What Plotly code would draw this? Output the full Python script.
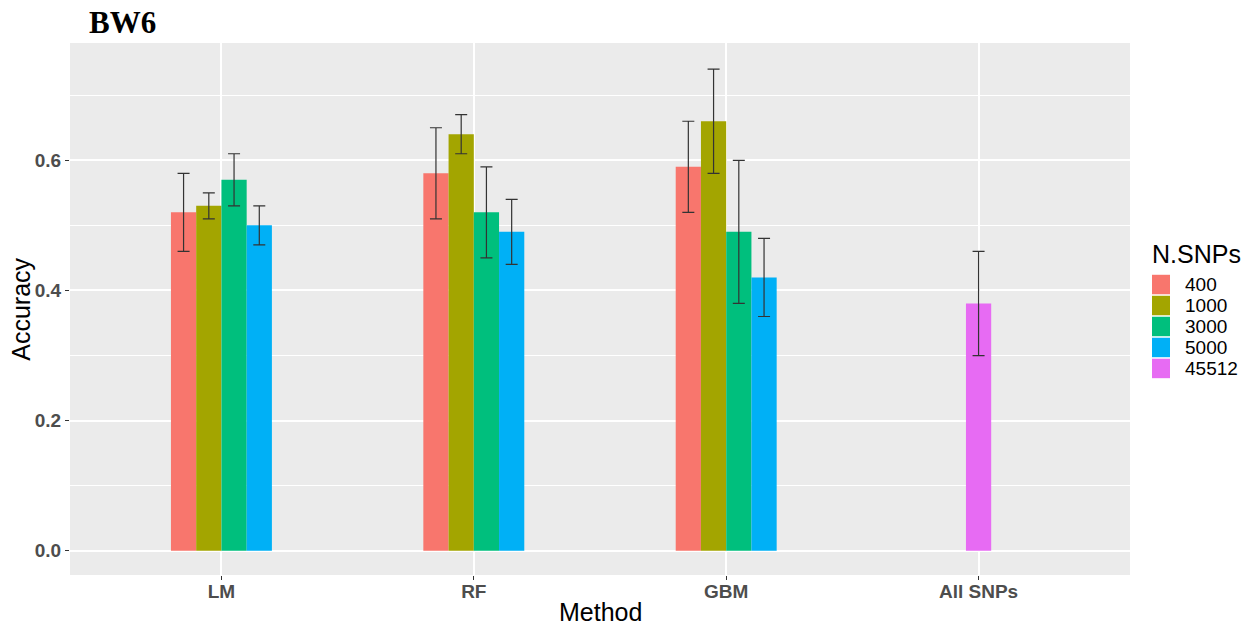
import plotly.graph_objects as go

methods = ["LM", "RF", "GBM", "All SNPs"]
n_snps = ["400", "1000", "3000", "5000", "45512"]
colors = ["#F8766D", "#A3A500", "#00BF7D", "#00B0F6", "#E76BF3"]

acc_400 = [0.52, 0.58, 0.59]
err_400 = [0.06, 0.07, 0.07]
acc_1000 = [0.53, 0.64, 0.66]
err_1000 = [0.02, 0.03, 0.08]
acc_3000 = [0.57, 0.52, 0.49]
err_3000 = [0.04, 0.07, 0.11]
acc_5000 = [0.50, 0.49, 0.42]
err_5000 = [0.03, 0.05, 0.06]
acc_45512 = [0.38]
err_45512 = [0.08]

series = [
    (methods[:3], acc_400, err_400),
    (methods[:3], acc_1000, err_1000),
    (methods[:3], acc_3000, err_3000),
    (methods[:3], acc_5000, err_5000),
    (methods[3:], acc_45512, err_45512),
]

W, H = 1246, 630
ML, MR, MT, MB = 70, 116, 43, 54.5
PW, PH = W - ML - MR, H - MT - MB

def px_x(x):
    return (x - ML) / PW

def px_y(y):
    return (H - MB - y) / PH

bar_w = 0.1
fig = go.Figure()
for i, (xs, ys, es) in enumerate(series):
    offset = -0.2 + bar_w * i if i < 4 else -bar_w / 2
    fig.add_trace(go.Bar(
        x=xs, y=ys, name=n_snps[i],
        marker=dict(color=colors[i], line=dict(width=0)),
        width=bar_w, offset=offset,
        error_y=dict(type="data", array=es, visible=True,
                     color="#333333", thickness=1.2, width=6),
        showlegend=False,
    ))

sans = "Liberation Sans, Arial, sans-serif"
tick_font = dict(family=sans, size=19, color="#4D4D4D")

annotations = [
    dict(text="Method", x=0.5, y=px_y(613), xref="paper", yref="paper",
         xanchor="center", yanchor="middle", showarrow=False,
         font=dict(family=sans, size=25, color="black")),
    dict(text="Accuracy", x=px_x(21), y=px_y(310), xref="paper", yref="paper",
         xanchor="center", yanchor="middle", textangle=-90, showarrow=False,
         font=dict(family=sans, size=25, color="black")),
    dict(text="N.SNPs", x=px_x(1150), y=px_y(254), xref="paper", yref="paper",
         xanchor="left", yanchor="middle", showarrow=False,
         font=dict(family=sans, size=25, color="black")),
]
shapes = []
for i, (lab, col) in enumerate(zip(n_snps, colors)):
    top = 275 + 21 * i
    shapes.append(dict(type="rect", xref="paper", yref="paper",
                       x0=px_x(1152), x1=px_x(1170), y0=px_y(top + 19.5), y1=px_y(top),
                       fillcolor=col, line=dict(width=0)))
    annotations.append(dict(text=lab, x=px_x(1183), y=px_y(top + 10), xref="paper", yref="paper",
                            xanchor="left", yanchor="middle", showarrow=False,
                            font=dict(family=sans, size=19, color="black")))

fig.update_layout(
    width=W, height=H,
    barmode="overlay",
    paper_bgcolor="white",
    plot_bgcolor="#EBEBEB",
    margin=dict(l=ML, r=MR, t=MT, b=MB, autoexpand=False),
    font=dict(family=sans, color="black"),
    title=dict(text="<b>BW6</b>", x=89 / W, xref="container", xanchor="left",
               y=1 - 22 / H, yref="container", yanchor="middle",
               font=dict(family="Liberation Serif, Times New Roman, serif", size=31, color="black")),
    showlegend=False,
    annotations=annotations,
    shapes=shapes,
)

fig.update_xaxes(
    type="category", categoryorder="array", categoryarray=methods,
    range=[-0.6, 3.6], automargin=False,
    showgrid=True, gridcolor="white", gridwidth=1.5,
    ticks="outside", ticklen=4, tickcolor="#333333", tickwidth=1,
    tickfont=tick_font, tickprefix="<b>", ticksuffix="</b>",
    ticklabelstandoff=-5,
    showline=False, zeroline=False,
)
fig.update_yaxes(
    range=[-0.0372, 0.7802], automargin=False,
    tickvals=[0, 0.2, 0.4, 0.6], ticktext=["<b>0.0</b>", "<b>0.2</b>", "<b>0.4</b>", "<b>0.6</b>"],
    showgrid=True, gridcolor="white", gridwidth=1.5,
    minor=dict(tickvals=[0.1, 0.3, 0.5, 0.7], showgrid=True, gridcolor="white", gridwidth=0.7, ticks=""),
    ticks="outside", ticklen=4, tickcolor="#333333", tickwidth=1,
    tickfont=tick_font,
    showline=False, zeroline=False,
)

fig.write_html("out.html")
